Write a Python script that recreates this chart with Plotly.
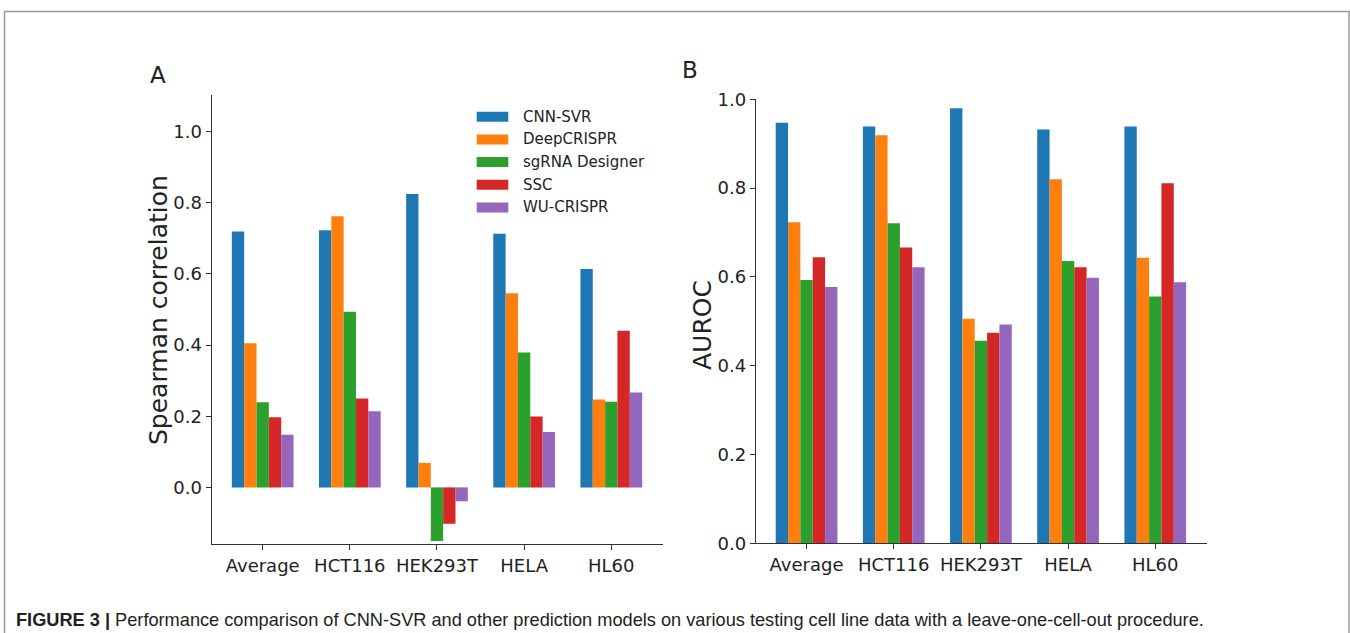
import plotly.graph_objects as go

# ---------------- data ----------------
cell_lines = ["Average", "HCT116", "HEK293T", "HELA", "HL60"]
models = ["CNN-SVR", "DeepCRISPR", "sgRNA Designer", "SSC", "WU-CRISPR"]
colors = ["#1f77b4", "#ff7f0e", "#2ca02c", "#d62728", "#9467bd"]

spearman_cnn_svr = [0.719, 0.723, 0.825, 0.713, 0.614]
spearman_deepcrispr = [0.405, 0.762, 0.069, 0.546, 0.247]
spearman_sgrna = [0.239, 0.494, -0.151, 0.379, 0.241]
spearman_ssc = [0.197, 0.250, -0.102, 0.199, 0.440]
spearman_wu = [0.148, 0.214, -0.039, 0.156, 0.267]

auroc_cnn_svr = [0.947, 0.939, 0.980, 0.932, 0.939]
auroc_deepcrispr = [0.723, 0.919, 0.506, 0.820, 0.643]
auroc_sgrna = [0.593, 0.721, 0.456, 0.636, 0.556]
auroc_ssc = [0.644, 0.666, 0.474, 0.622, 0.811]
auroc_wu = [0.577, 0.622, 0.493, 0.598, 0.588]

y_ticks = [0.0, 0.2, 0.4, 0.6, 0.8, 1.0]
caption_bold = "FIGURE 3 |"
caption_text = ("Performance comparison of CNN-SVR and other prediction models on various "
                "testing cell line data with a leave-one-cell-out procedure.")

spearman = [spearman_cnn_svr, spearman_deepcrispr, spearman_sgrna, spearman_ssc, spearman_wu]
auroc = [auroc_cnn_svr, auroc_deepcrispr, auroc_sgrna, auroc_ssc, auroc_wu]

# ---------------- layout helpers ----------------
W, H = 1350, 633
def px(x):
    return x / W
def py(y):
    return 1 - y / H

FONT = "DejaVu Sans"
TXT = "#222222"
AX = "#333333"

fig = go.Figure()
for name, col, vals in zip(models, colors, spearman):
    fig.add_trace(go.Bar(x=cell_lines, y=vals, name=name, marker_color=col,
                         marker_line_width=0, xaxis="x", yaxis="y", showlegend=False))
for name, col, vals in zip(models, colors, auroc):
    fig.add_trace(go.Bar(x=cell_lines, y=vals, name=name, marker_color=col,
                         marker_line_width=0, xaxis="x2", yaxis="y2", showlegend=False))

axis_common = dict(showgrid=False, zeroline=False, showline=True, linecolor=AX,
                   linewidth=1.3, ticks="outside", ticklen=5, tickwidth=1.2,
                   tickcolor=AX, automargin=False,
                   tickfont=dict(family=FONT, size=18, color=TXT))

fig.update_layout(
    width=W, height=H, margin=dict(l=0, r=0, t=0, b=0, pad=0, autoexpand=False),
    paper_bgcolor="white", plot_bgcolor="white",
    barmode="group", bargap=0.292, bargroupgap=0,
    showlegend=False,
    xaxis=dict(domain=[px(211.7), px(662.7)], anchor="y", type="category",
               range=[-0.585, 4.59], **axis_common),
    yaxis=dict(domain=[py(544.3), py(95)], anchor="x", range=[-0.160, 1.103],
               tickvals=y_ticks, tickformat=".1f", **axis_common),
    xaxis2=dict(domain=[px(756), px(1206.7)], anchor="y2", type="category",
                range=[-0.58, 4.59], **axis_common),
    yaxis2=dict(domain=[py(543.3), py(99.3)], anchor="x2", range=[0, 1.0],
                tickvals=y_ticks, tickformat=".1f", **axis_common),
)

shapes = []
annotations = []

# manual legend (panel A)
leg_y = [116.7, 139.4, 162.1, 184.8, 207.5]
for name, col, yy in zip(models, colors, leg_y):
    shapes.append(dict(type="rect", xref="paper", yref="paper",
                       x0=px(476.7), x1=px(508.3), y0=py(yy + 5), y1=py(yy - 5),
                       fillcolor=col, line_width=0))
    annotations.append(dict(xref="paper", yref="paper", x=px(521), y=py(yy),
                            xanchor="left", yanchor="middle", showarrow=False,
                            text=name, font=dict(family=FONT, size=15, color=TXT)))

# axis titles
annotations.append(dict(xref="paper", yref="paper", x=px(158), y=py(310),
                        textangle=-90, showarrow=False, xanchor="center", yanchor="middle",
                        text="Spearman correlation", font=dict(family=FONT, size=25, color=TXT)))
annotations.append(dict(xref="paper", yref="paper", x=px(702), y=py(325),
                        textangle=-90, showarrow=False, xanchor="center", yanchor="middle",
                        text="AUROC", font=dict(family=FONT, size=25, color=TXT)))

# panel letters
annotations.append(dict(xref="paper", yref="paper", x=px(158), y=py(75), showarrow=False,
                        xanchor="center", yanchor="middle", text="A",
                        font=dict(family=FONT, size=23, color=TXT)))
annotations.append(dict(xref="paper", yref="paper", x=px(690), y=py(70), showarrow=False,
                        xanchor="center", yanchor="middle", text="B",
                        font=dict(family=FONT, size=23, color=TXT)))

# caption
annotations.append(dict(xref="paper", yref="paper", x=px(14), y=py(620), showarrow=False,
                        xanchor="left", yanchor="middle",
                        text="<b>" + caption_bold + "</b> " + caption_text,
                        font=dict(family="Liberation Sans", size=18.2, color="#222222")))

# frame border
shapes.append(dict(type="rect", xref="paper", yref="paper",
                   x0=px(4.5), x1=px(1349), y0=py(660), y1=py(11.5),
                   line=dict(color="#9a9a9a", width=1.5), fillcolor="rgba(0,0,0,0)"))

fig.update_layout(shapes=shapes, annotations=annotations)
fig.write_html(
    "out.html",
    config={"displayModeBar": False},
    post_script=(
        "document.body.style.margin='0';document.body.style.padding='0';"
        "document.body.style.overflow='hidden';"
        "document.documentElement.style.overflow='hidden';"
    ),
)
